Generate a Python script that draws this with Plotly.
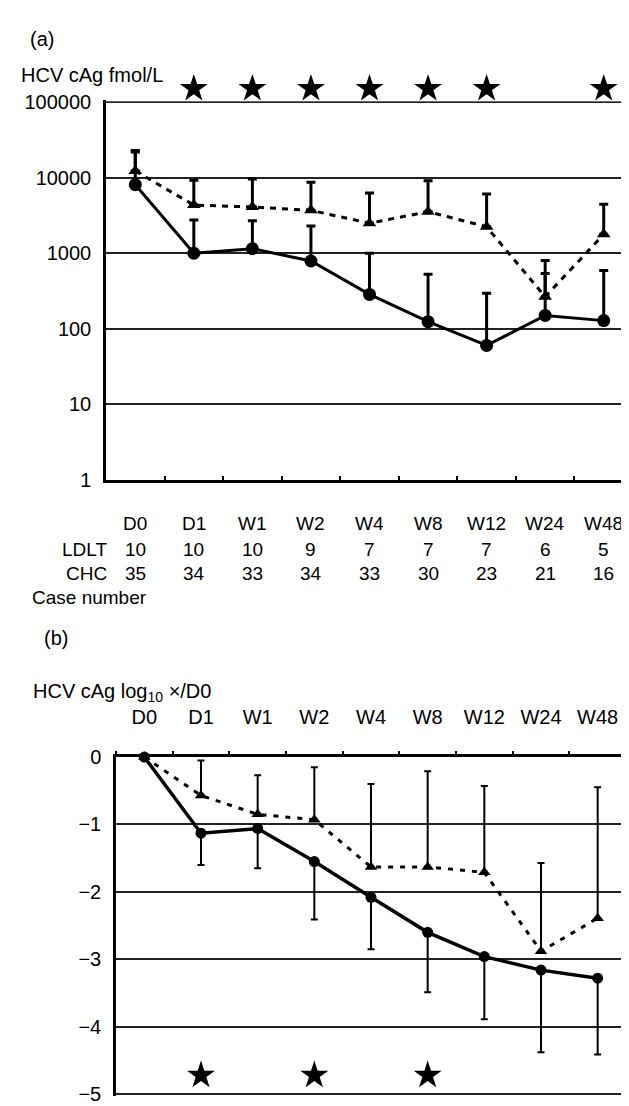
import plotly.graph_objects as go

# ---------------- data ----------------
categories = ["D0", "D1", "W1", "W2", "W4", "W8", "W12", "W24", "W48"]
ldlt_n = [10, 10, 10, 9, 7, 7, 7, 6, 5]
chc_n = [35, 34, 33, 34, 33, 30, 23, 21, 16]

# panel (a): HCV cAg fmol/L (mean and upper end of SD bar)
ldlt_a = [8100, 1000, 1150, 790, 285, 124, 60, 150, 128]
ldlt_a_top = [22000, 2750, 2700, 2300, 1000, 525, 295, 540, 590]
chc_a = [12300, 4350, 4100, 3700, 2500, 3550, 2240, 265, 1780]
chc_a_top = [22900, 9300, 9600, 8700, 6300, 9100, 6100, 800, 4450]
sig_a = ["D1", "W1", "W2", "W4", "W8", "W12", "W48"]

# panel (b): log10 x/D0
ldlt_b = [0, -1.13, -1.06, -1.55, -2.08, -2.60, -2.96, -3.16, -3.28]
ldlt_b_low = [0, -1.60, -1.65, -2.41, -2.85, -3.49, -3.89, -4.38, -4.41]
chc_b = [0, -0.57, -0.85, -0.93, -1.63, -1.63, -1.71, -2.88, -2.39]
chc_b_high = [0, -0.05, -0.27, -0.15, -0.40, -0.21, -0.43, -1.57, -0.45]
sig_b = ["D1", "W2", "W8"]

a_ticks = [1, 10, 100, 1000, 10000, 100000]

# ---------------- layout helpers ----------------
W, H = 629, 1106
FONT = "Liberation Sans, Arial, sans-serif"


def px(x):
    return x / W


def py(y):
    return 1 - y / H


fig = go.Figure()

# ---------- panel (a) ----------
fig.add_trace(go.Scatter(
    x=categories, y=chc_a, xaxis="x", yaxis="y", mode="lines+markers",
    line=dict(color="black", width=3, dash="6px,6px"),
    marker=dict(symbol="triangle-up", size=12, color="black"),
    error_y=dict(type="data", symmetric=False,
                 array=[t - v for t, v in zip(chc_a_top, chc_a)],
                 arrayminus=[0] * len(chc_a),
                 color="black", thickness=3, width=4.5),
    cliponaxis=False))
fig.add_trace(go.Scatter(
    x=categories, y=ldlt_a, xaxis="x", yaxis="y", mode="lines+markers",
    line=dict(color="black", width=3),
    marker=dict(symbol="circle", size=13, color="black"),
    error_y=dict(type="data", symmetric=False,
                 array=[t - v for t, v in zip(ldlt_a_top, ldlt_a)],
                 arrayminus=[0] * len(ldlt_a),
                 color="black", thickness=3, width=4.5),
    cliponaxis=False))
# significance stars above panel (a), on their own hidden strip axis
fig.add_trace(go.Scatter(
    x=sig_a, y=[0.5] * len(sig_a), xaxis="x", yaxis="y3", mode="markers",
    marker=dict(symbol="star", size=21, color="black"), cliponaxis=False))

# ---------- panel (b) ----------
fig.add_trace(go.Scatter(
    x=categories, y=chc_b, xaxis="x2", yaxis="y2", mode="lines+markers",
    line=dict(color="black", width=3, dash="5px,7px"),
    marker=dict(symbol="triangle-up", size=11, color="black"),
    error_y=dict(type="data", symmetric=False,
                 array=[h - v for h, v in zip(chc_b_high, chc_b)],
                 arrayminus=[0] * len(chc_b),
                 color="black", thickness=2, width=3.5),
    cliponaxis=False))
fig.add_trace(go.Scatter(
    x=categories, y=ldlt_b, xaxis="x2", yaxis="y2", mode="lines+markers",
    line=dict(color="black", width=3.5),
    marker=dict(symbol="circle", size=11, color="black"),
    error_y=dict(type="data", symmetric=False,
                 array=[0] * len(ldlt_b),
                 arrayminus=[v - l for v, l in zip(ldlt_b, ldlt_b_low)],
                 color="black", thickness=2, width=3.5),
    cliponaxis=False))
fig.add_trace(go.Scatter(
    x=sig_b, y=[-4.72] * len(sig_b), xaxis="x2", yaxis="y2", mode="markers",
    marker=dict(symbol="star", size=21, color="black"), cliponaxis=False))

# ---------- annotations ----------
ann = []


def text(x, y, s, xanchor="left", size=20):
    ann.append(dict(x=px(x), y=py(y), xref="paper", yref="paper", text=s,
                    showarrow=False, xanchor=xanchor, yanchor="middle",
                    font=dict(size=size, color="black", family=FONT)))


text(20, 20, "(a)")
text(11, 57, "HCV cAg fmol/L")
text(34, 632, "(b)")
text(23, 687, "HCV cAg log<sub>10</sub> ×/D0")

# case-number table under panel (a)
for c, nl, nc in zip(categories, ldlt_n, chc_n):
    for yy, s in ((515, c), (541, str(nl)), (566, str(nc))):
        ann.append(dict(x=c, y=py(yy), xref="x", yref="paper", text=s,
                        showarrow=False, xanchor="center", yanchor="middle",
                        font=dict(size=19, color="black", family=FONT)))
text(101, 541, "LDLT", xanchor="right", size=19)
text(101, 566, "CHC", xanchor="right", size=19)
text(22, 590, "Case number", size=19)

axis_common = dict(linecolor="black", showline=True,
                   tickfont=dict(size=20, color="black", family=FONT))

# small range pads keep the edge gridlines (100000 and -5) from being clipped
A_PAD = 0.025   # decades
B_PAD = 0.025   # units

fig.update_layout(
    width=W, height=H,
    margin=dict(l=0, r=0, t=0, b=0),
    paper_bgcolor="white", plot_bgcolor="white",
    showlegend=False,
    annotations=ann,
    xaxis=dict(domain=[px(98), px(625)], anchor="y", type="category",
               categoryorder="array", categoryarray=categories,
               range=[-0.5, 8.5], showgrid=False, showticklabels=False,
               ticks="inside", ticklen=4, tickwidth=1.5, tickcolor="black",
               tickson="boundaries", linewidth=2.5, **axis_common),
    yaxis=dict(domain=[py(470), py(85 - 77 * A_PAD)], anchor="x", type="log",
               range=[0, 5 + A_PAD], tickvals=a_ticks,
               ticktext=[str(t) for t in a_ticks],
               showgrid=True, gridcolor="#222", gridwidth=1.5,
               ticks="", ticklabelstandoff=8, zeroline=False,
               linewidth=2.5, **axis_common),
    yaxis3=dict(domain=[py(84), py(58)], anchor="x", range=[0, 1],
                visible=False, fixedrange=True),
    xaxis2=dict(domain=[px(108), px(618)], anchor="y2", type="category",
                categoryorder="array", categoryarray=categories,
                range=[-0.5, 8.5], side="top", showgrid=False,
                ticks="outside", ticklen=3, tickwidth=1.5, tickcolor="black",
                tickson="boundaries", ticklabelstandoff=22, linewidth=2.5,
                **axis_common),
    yaxis2=dict(domain=[py(1097 + 69 * B_PAD), py(753)], anchor="x2",
                range=[-5 - B_PAD, 0], dtick=1, tick0=0,
                showgrid=True, gridcolor="#222", gridwidth=1.5,
                zeroline=False, ticks="", ticklabelstandoff=8,
                linewidth=2.5, **axis_common),
)

fig.write_html("out.html")
